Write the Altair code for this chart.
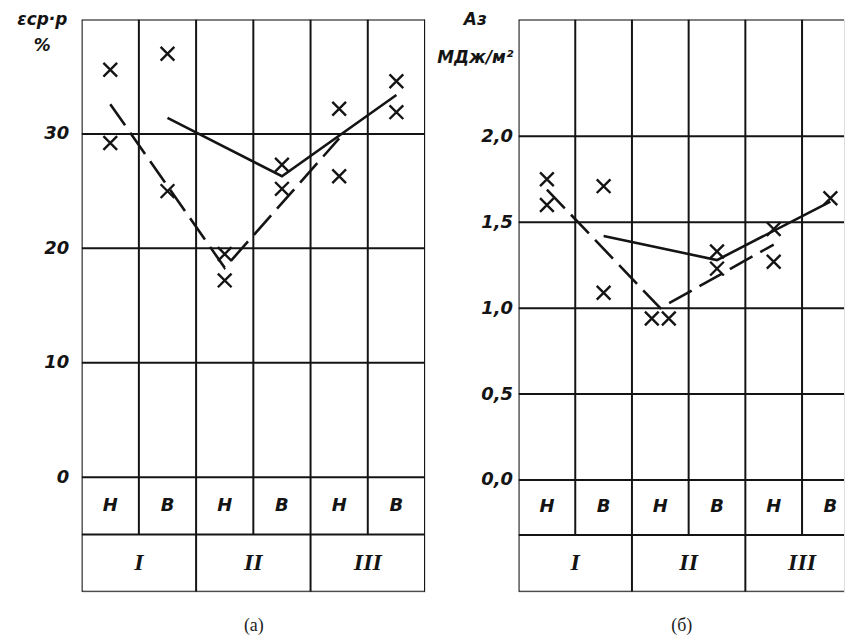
import altair as alt
import pandas as pd

# ---------------- data ----------------
SUB_LABELS = ["Н", "В", "Н", "В", "Н", "В"]
GROUP_LABELS = ["I", "II", "III"]

# panel (a): ε ср·р, %
A_PT_COL = [0, 0, 1, 1, 2, 2, 3, 3, 4, 4, 5, 5]
A_PT_SIDE = [0, 0, 0, 0, 0, 0, 0, 0, 0, 0, 0, 0]
A_PT_VAL = [35.6, 29.2, 37.0, 25.0, 19.5, 17.2, 27.3, 25.2, 32.2, 26.3, 34.6, 31.9]
A_SOLID_COL = [1, 3, 5]
A_SOLID_VAL = [31.4, 26.3, 33.4]
A_DASH_COL = [0, 2, 4]
A_DASH_VAL = [32.6, 18.3, 29.6]
A_TICKS = [0, 10, 20, 30]

# panel (б): A з, МДж/м²
B_PT_COL = [0, 0, 1, 1, 2, 2, 3, 3, 4, 4, 5]
B_PT_SIDE = [0, 0, 0, 0, -1, 1, 0, 0, 0, 0, 0]
B_PT_VAL = [1.75, 1.60, 1.71, 1.09, 0.94, 0.94, 1.33, 1.23, 1.46, 1.27, 1.64]
B_SOLID_COL = [1, 3, 5]
B_SOLID_VAL = [1.42, 1.28, 1.62]
B_DASH_COL = [0, 2, 4]
B_DASH_VAL = [1.69, 1.00, 1.37]
B_TICKS = [0.0, 0.5, 1.0, 1.5, 2.0]

INK = "#141414"
CROSS = "M-1,-1L1,1M-1,1L1,-1"
LBL_FONT = "DejaVu Sans"


def make_panel(pt_col, pt_side, pt_val, s_col, s_val, d_col, d_val, ticks,
               ymin, ymid, ymax, xmax, label_expr, title_lines, title_x,
               title_lh, label_pad, caption, width, height):
    xs = alt.Scale(domain=[0, xmax], nice=False, zero=False)
    ys = alt.Scale(domain=[ymin, ymax], nice=False, zero=False)
    ncol = len(SUB_LABELS)

    yaxis = alt.Axis(values=ticks, labelExpr=label_expr, grid=False, ticks=False,
                     domain=False, labelFont=LBL_FONT, labelFontStyle="italic",
                     labelFontWeight="bold", labelFontSize=18, labelColor=INK,
                     labelPadding=label_pad,
                     title=title_lines, titleAngle=0, titleAlign="center",
                     titleBaseline="top", titleX=title_x, titleY=-8,
                     titleFont=LBL_FONT, titleFontSize=17,
                     titleFontWeight="bold", titleFontStyle="italic",
                     titleLineHeight=title_lh, titleColor=INK)
    xaxis = alt.Axis(labels=False, ticks=False, domain=False, grid=False,
                     title=caption, titleFont="Liberation Serif", titleFontSize=18,
                     titleFontWeight="normal", titlePadding=25, titleColor="#222")

    def X(f):
        return alt.X(f, scale=xs, axis=xaxis)

    def Y(f):
        return alt.Y(f, scale=ys, axis=yaxis)

    # horizontal grid / table lines
    hl = pd.DataFrame({"y": list(ticks) + [ymax, ymid, ymin]})
    hl["x"] = 0
    hl["x2"] = ncol
    hrule = alt.Chart(hl).mark_rule(color=INK, strokeWidth=2, clip=True).encode(
        x=X("x:Q"), x2="x2:Q", y=Y("y:Q"))

    # group boundaries: full height down to the bottom of the table
    vf = pd.DataFrame({"x": list(range(0, ncol + 1, 2))})
    vf["ytop"] = ymax
    vf["ybot"] = ymin
    vfull = alt.Chart(vf).mark_rule(color=INK, strokeWidth=2, clip=True).encode(
        x=X("x:Q"), y=Y("ytop:Q"), y2="ybot:Q")

    # Н / В boundaries: down to the sub-row divider
    vh = pd.DataFrame({"x": list(range(1, ncol, 2))})
    vh["ytop"] = ymax
    vh["ybot"] = ymid
    vhalf = alt.Chart(vh).mark_rule(color=INK, strokeWidth=2, clip=True).encode(
        x=X("x:Q"), y=Y("ytop:Q"), y2="ybot:Q")

    sub = pd.DataFrame({"x": [i + 0.5 for i in range(ncol)], "lab": SUB_LABELS})
    sub["y"] = (0 + ymid) / 2
    sub_t = alt.Chart(sub).mark_text(font=LBL_FONT, fontStyle="italic",
                                     fontWeight="bold", fontSize=18, color=INK).encode(
        x=X("x:Q"), y=Y("y:Q"), text="lab:N")

    grp = pd.DataFrame({"x": [2 * i + 1 for i in range(len(GROUP_LABELS))],
                        "lab": GROUP_LABELS})
    grp["y"] = (ymid + ymin) / 2
    grp_t = alt.Chart(grp).mark_text(font="Liberation Serif", fontStyle="italic",
                                     fontWeight="bold", fontSize=24, color=INK).encode(
        x=X("x:Q"), y=Y("y:Q"), text="lab:N")

    pts = pd.DataFrame({"col": pt_col, "side": pt_side, "v": pt_val})
    pts_m = alt.Chart(pts).transform_calculate(
        xx="datum.col + 0.5 + datum.side * 0.15"
    ).mark_point(shape=CROSS, size=190, strokeWidth=2.4, color=INK,
                 filled=False, opacity=1).encode(x=X("xx:Q"), y=Y("v:Q"))

    sl = pd.DataFrame({"col": s_col, "v": s_val})
    solid = alt.Chart(sl).transform_calculate(xx="datum.col + 0.5").mark_line(
        color=INK, strokeWidth=2.6).encode(x=X("xx:Q"), y=Y("v:Q"))

    dl = pd.DataFrame({"col": d_col, "v": d_val})
    dash = alt.Chart(dl).transform_calculate(xx="datum.col + 0.5").mark_line(
        color=INK, strokeWidth=2.6, strokeDash=[26, 9]).encode(x=X("xx:Q"), y=Y("v:Q"))

    return alt.layer(hrule, vfull, vhalf, sub_t, grp_t, solid, dash, pts_m).properties(
        width=width, height=height)


pa = make_panel(A_PT_COL, A_PT_SIDE, A_PT_VAL, A_SOLID_COL, A_SOLID_VAL,
                A_DASH_COL, A_DASH_VAL, A_TICKS, -10, -5, 40, 6,
                "datum.label", ["εср·р", "%"], -40, 26, 13, "(a)", 345, 575)
pb = make_panel(B_PT_COL, B_PT_SIDE, B_PT_VAL, B_SOLID_COL, B_SOLID_VAL,
                B_DASH_COL, B_DASH_VAL, B_TICKS, -0.65, -0.32, 2.68, 5.74,
                "replace(format(datum.value, '.1f'), '.', ',')",
                ["Aз", "МДж/м²"], -44, 38, 6, "(б)", 327, 575)

chart = alt.hconcat(pa, pb, spacing=10).properties(
    padding={"left": 8, "top": 0, "right": 0, "bottom": 0}
).configure_view(stroke=None).configure(background="white")

chart.save("out.html", embed_options={"renderer": "svg", "actions": False})
